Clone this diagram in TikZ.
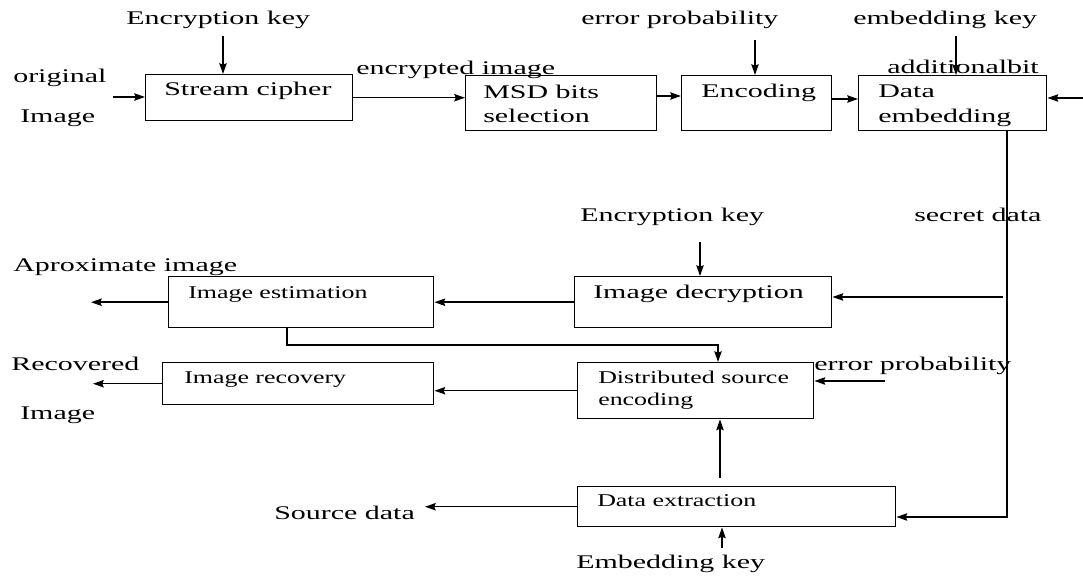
\documentclass[tikz,border=0pt]{standalone}
\usepackage{fontspec}
\setmainfont{Liberation Serif}[FakeStretch=1.55]
\newfontfamily\boxfont{Liberation Serif}[FakeStretch=1.44]
\usetikzlibrary{arrows.meta}

\tikzset{
  box/.style 2 args={draw, line width=1.1pt, anchor=north west, inner sep=0pt,
    minimum width=#1*0.75pt, minimum height=#2*0.75pt},
  lbl/.style={anchor=base west, inner sep=0.75pt, font=\fontsize{14.5}{17}\selectfont},
  sml/.style={anchor=base west, inner sep=0.75pt, font=\boxfont\fontsize{13.5}{16}\selectfont},
  arr/.style={line width=1.1pt, -{Stealth[length=8pt, width=5.5pt, inset=1pt]}},
}

\begin{document}
\begin{tikzpicture}[x=0.75pt,y=0.75pt,yscale=-1,xscale=1]
\useasboundingbox (0,0) rectangle (1083,577);

%Shape: Rectangle [id:cipher]
\node[box={207}{46}] (cipher) at (145,74) {};
%Shape: Rectangle [id:msd]
\node[box={191}{55}] (msd) at (465,75) {};
%Shape: Rectangle [id:encode]
\node[box={150}{55}] (encode) at (681,75) {};
%Shape: Rectangle [id:embed]
\node[box={188}{55}] (embed) at (858,75) {};
%Shape: Rectangle [id:decrypt]
\node[box={257}{51}] (decrypt) at (574,276) {};
%Shape: Rectangle [id:estim]
\node[box={265}{51}] (estim) at (168,276) {};
%Shape: Rectangle [id:dse]
\node[box={236}{56}] (dse) at (577,362) {};
%Shape: Rectangle [id:recov]
\node[box={271}{42}] (recov) at (162,362) {};
%Shape: Rectangle [id:extract]
\node[box={318}{40}] (extract) at (577,486) {};

% Text Node
\node[lbl] (cipherT) at (163,96) {Stream cipher};
% Text Node
\node[lbl] (msdT) at (482,99) {MSD bits};
\node[lbl] (msdT2) at (482,123) {selection};
% Text Node
\node[lbl] (encodeT) at (700,98) {Encoding};
% Text Node
\node[lbl] (embedT) at (877,98) {Data};
\node[lbl] (embedT2) at (877,123) {embedding};
% Text Node
\node[lbl] (decryptT) at (592,299) {Image decryption};
% Text Node
\node[sml] (estimT) at (187,299) {Image estimation};
% Text Node
\node[sml] (dseT) at (597,384) {Distributed source};
\node[sml] (dseT2) at (597,406) {encoding};
% Text Node
\node[sml] (recovT) at (183,384) {Image recovery};
% Text Node
\node[sml] (extractT) at (596,507) {Data extraction};

% Text Node
\node[lbl] (keyA) at (125,25) {Encryption key};
% Text Node
\node[lbl] (orig) at (12,83) {original};
\node[lbl] (origB) at (19,123) {Image};
% Text Node
\node[lbl] (encimg) at (355,75) {encrypted image};
% Text Node
\node[lbl] (errA) at (580,25) {error probability};
% Text Node
\node[lbl] (ekey) at (852,25) {embedding key};
% Text Node
\node[lbl] (addbit) at (886,74) {additionalbit};
% Text Node
\node[lbl] (secret) at (913,222) {secret data};
% Text Node
\node[lbl] (keyB) at (579,222) {Encryption key};
% Text Node
\node[lbl] (approx) at (12,272) {Aproximate image};
% Text Node
\node[lbl] (recA) at (10,371) {Recovered};
\node[lbl] (recB) at (19,420) {Image};
% Text Node
\node[lbl] (errB) at (813,371) {error probability};
% Text Node
\node[lbl] (srcdata) at (273,519) {Source data};
% Text Node
\node[lbl] (ekeyB) at (575,569) {Embedding key};

% free ends
\coordinate (inA) at (113,97);
\coordinate (keyAin) at (223,36);
\coordinate (errAin) at (755,40);
\coordinate (ekeyin) at (956,36);
\coordinate (bitin) at (1083,98);
\coordinate (rail) at (1007,517);
\coordinate (sec) at (1003,297);
\coordinate (keyBin) at (700,242);
\coordinate (approxout) at (91,0);
\coordinate (recout) at (93,0);
\coordinate (bend) at (287,345);
\coordinate (dsein) at (718,345);
\coordinate (errBin) at (885,381);
\coordinate (up) at (720,478);
\coordinate (ekeyBin) at (722,548);
\coordinate (srcout) at (425,0);

%Straight Lines
\draw[arr] (inA) -- (inA -| cipher.west);
\draw[arr] (keyAin) -- (keyAin |- cipher.north);
\draw[arr] (cipher.east) -- (cipher.east -| msd.west);
\draw[arr] (msd.east |- 0,96) -- (encode.west |- 0,96);
\draw[arr] (errAin) -- (errAin |- encode.north);
\draw[arr] (encode.east |- 0,99) -- (embed.west |- 0,99);
\draw[arr] (ekeyin) -- (ekeyin |- embed.north);
\draw[arr] (bitin) -- (bitin -| embed.east);
\draw[arr] (embed.south -| rail) |- (extract.east |- rail);
\draw[arr] (sec) -- (sec -| decrypt.east);
\draw[arr] (keyBin) -- (keyBin |- decrypt.north);
\draw[arr] (decrypt.west) -- (decrypt.west -| estim.east);
\draw[arr] (estim.west) -- (estim.west -| approxout);
\draw[arr] (estim.south -| bend) -- (bend) -- (dsein) -- (dsein |- dse.north);
\draw[arr] (errBin) -- (errBin -| dse.east);
\draw[arr] (dse.west) -- (dse.west -| recov.east);
\draw[arr] (recov.west) -- (recov.west -| recout);
\draw[arr] (up) -- (up |- dse.south);
\draw[arr] (ekeyBin) -- (ekeyBin |- extract.south);
\draw[arr] (extract.west) -- (extract.west -| srcout);

\end{tikzpicture}
\end{document}
